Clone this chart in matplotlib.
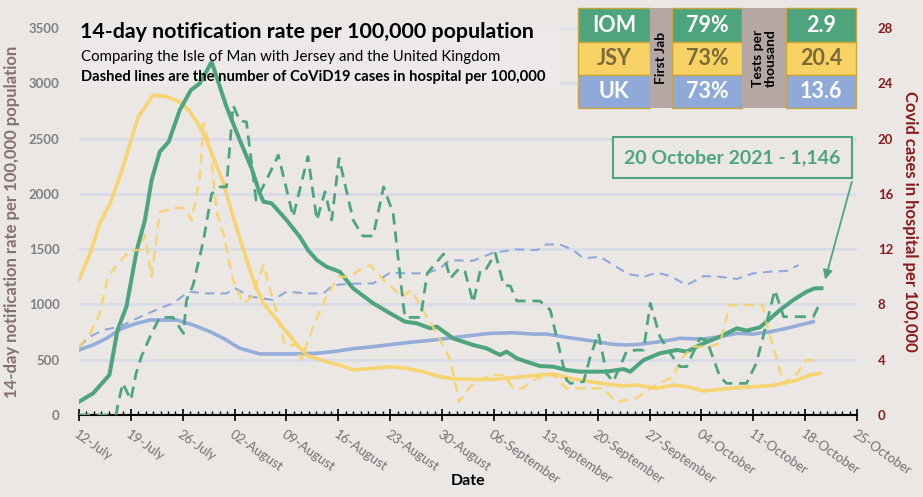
import matplotlib.pyplot as plt
from matplotlib.patches import Rectangle

plt.rcParams["font.family"] = ["Lato", "DejaVu Sans"]

# x positions are days after 12 July 2021
tick_labels = ["12-July", "19-July", "26-July", "02-August", "09-August", "16-August",
               "23-August", "30-August", "06-September", "13-September", "20-September",
               "27-September", "04-October", "11-October", "18-October", "25-October"]

# 14-day notification rate per 100,000 (left axis)
iom_days = [0, 1.9, 4.1, 5.2, 6.4, 7.8, 8.9, 9.8, 10.9, 12.1, 13.6, 15.1, 16.3, 17.9, 19.9,
            21.7, 23.3, 24.4, 24.9, 26, 28, 29.8, 30.9, 32.1, 33.4, 35.2, 37, 39.7, 42, 44,
            45.6, 47.4, 48.3, 50.5, 53.2, 55, 56.8, 57.7, 59.1, 60.4, 62.2, 64, 65.8, 67.6,
            71.2, 73.5, 74.4, 76.2, 78.4, 80.7, 82, 84.3, 86.5, 88.8, 90.1, 91.9, 92.8, 94.6,
            96.4, 98.2, 99.3, 100.2]
iom_rate = [120, 196, 362, 768, 980, 1492, 1763, 2125, 2381, 2471, 2758, 2938, 2999, 3194, 2788,
            2486, 2230, 2004, 1929, 1914, 1763, 1612, 1492, 1401, 1341, 1295, 1145, 1010, 919, 844,
            829, 784, 799, 693, 633, 603, 543, 573, 512, 482, 443, 437, 407, 392,
            392, 415, 392, 497, 558, 588, 573, 648, 708, 784, 763, 793, 844, 949,
            1040, 1115, 1146, 1146]

jsy_days = [0, 1.5, 2.8, 4.2, 5.8, 6.9, 8, 10, 11.8, 13.6, 14.8, 15.9, 17.2, 18.1, 19.5, 20.8,
            22.2, 23.5, 24.9, 26.7, 28.9, 30.7, 33.4, 35.5, 37, 39.7, 42, 44.2, 46.4, 48.7,
            50.5, 53.2, 55.9, 58.6, 62.2, 64, 66.7, 69, 71.2, 73.3, 75.3, 78, 80.2, 82, 84.3,
            86.5, 88.8, 91, 93.3, 95.1, 96.9, 98.7, 100]
jsy_rate = [1221, 1462, 1733, 1914, 2215, 2456, 2697, 2893, 2878, 2833, 2758, 2652, 2486, 2336,
            2095, 1793, 1492, 1221, 1010, 859, 678, 542, 482, 445, 407, 422, 437, 422, 392, 347,
            326, 322, 322, 337, 362, 371, 326, 301, 280, 263, 271, 241, 271, 256, 217,
            232, 247, 256, 265, 286, 316, 362, 377]

uk_days = [0, 1.9, 3.7, 5.8, 7.8, 9.6, 10.9, 13.2, 15.4, 17.7, 19.5, 21.7, 24.4, 28.9, 32.1,
           34.3, 37, 39.7, 44.2, 47.8, 52.3, 55.4, 58.6, 61.3, 63.1, 65.8, 69, 72.1, 73.9,
           75.7, 78.4, 81.1, 84.3, 86.5, 88.8, 91, 93.3, 95.5, 97.3, 99.1]
uk_rate = [588, 633, 693, 784, 829, 859, 859, 859, 814, 753, 693, 603, 552, 552, 558,
           573, 600, 618, 654, 678, 714, 738, 744, 732, 732, 702, 672, 639, 633,
           640, 663, 693, 687, 708, 738, 732, 753, 784, 814, 844]

# cases in hospital per 100,000 (right axis)
iom_hosp_days = [0, 5, 5.2, 5.9, 7.0, 7.7, 8.4, 9.7, 10.9, 12.7, 14.1, 14.5, 15.4, 16.8, 17.9,
                 19, 19.9, 20.8, 21.7, 22.6, 23.9, 25.3, 26.9, 28.9, 30.9, 32.1, 33.2, 34.1,
                 35.1, 37, 38.3, 39.7, 41.1, 42.4, 43.8, 44, 46.1, 47, 49.2, 50.1, 51.3, 52.1,
                 53.2, 54.2, 55, 56.2, 57.3, 58.2, 59.1, 62.2, 63.6, 65.8, 66.3, 68.1, 69,
                 70.1, 71.2, 72.1, 73.9, 75.3, 76.2, 77.1, 78.4, 79.8, 81.1, 82, 83.8, 84.7,
                 86.5, 87.4, 90.1, 91.4, 92.8, 93.9, 95.1, 96.4, 99.1, 100]
iom_hosp = [0, 0, 0.6, 2.3, 1.1, 3.0, 4.2, 5.8, 7.06, 7.06, 5.9, 8.3, 9.4, 12.66, 16.0,
            16.5, 16.5, 22.4, 21.3, 21.2, 15.55, 17.0, 18.8, 14.35, 18.7, 14.1, 16.15, 14.1,
            18.56, 14.1, 12.95, 12.95, 16.5, 14.6, 7.84, 7.06, 7.06, 10.25, 11.65, 9.88, 10.6, 10.37,
            8.12, 10.56, 10.6, 11.7, 9.4, 9.33, 8.25, 8.25, 7.6, 2.53, 2.29, 2.41, 4.22,
            5.9, 3.0, 2.41, 4.6, 4.7, 4.7, 8.08, 5.67, 4.46, 3.5, 3.5, 5.55, 5.42,
            2.77, 2.29, 2.29, 3.74, 6.63, 9.04, 7.11, 7.11, 7.11, 8.08]

jsy_hosp_days = [0, 1.5, 2.8, 3.9, 5.3, 6.9, 8.2, 8.9, 9.8, 10.9, 13.2, 14.3, 15.2, 16.3, 16.8,
                 17.7, 18.6, 19.5, 20.8, 22.2, 23.3, 24.9, 26.2, 27.8, 29.4, 30, 31.6, 33.4,
                 35, 36.6, 37.9, 39.3, 41.1, 43.6, 44.9, 46.1, 48.3, 50.1, 51.3, 52.8, 54.6,
                 55.4, 57.3, 58.6, 59.8, 61.8, 64, 65.8, 69.4, 70.7, 72.5, 75.2, 77.5, 80.2,
                 81.1, 82.9, 85.1, 86.5, 87.8, 91, 92.2, 93.3, 95.1, 96.9, 98.2, 99.3]
jsy_hosp = [4.94, 5.9, 7.35, 10.0, 10.97, 11.93, 11.93, 13.0, 10.0, 14.7, 15.0, 14.95, 14.1, 17.24,
            21.1, 19.4, 14.6, 13.1, 9.76, 8.08, 8.56, 10.85, 8.32, 5.06, 5.06, 3.98, 6.39, 8.56,
            10.0, 10.0, 10.5, 10.85, 9.76, 8.56, 9.04, 7.84, 5.9, 3.98, 0.96, 2.05, 2.65,
            2.89, 2.89, 1.93, 1.93, 2.65, 2.89, 1.93, 1.93, 1.93, 0.96, 1.21, 2.05, 2.77,
            3.98, 4.94, 4.94, 5.18, 7.96, 7.96, 7.96, 5.67, 2.29, 3.0, 3.98, 3.98]

uk_hosp_days = [0, 1.5, 3.3, 5.5, 7.8, 10.9, 12.7, 14.8, 17.2, 19.9, 21.1, 23.1, 26.2, 28, 30.7,
                33, 34.3, 37, 39.7, 42, 44.2, 46.9, 48.7, 50, 53.2, 55.9, 59.1, 61.8, 63.1,
                64.9, 66.7, 68.1, 70.3, 72.5, 74.1, 76.2, 78, 79.8, 82, 84.3, 86.5, 88.8, 91,
                93.3, 95.5, 97.1]
uk_hosp = [4.94, 5.67, 6.15, 6.39, 6.99, 7.72, 8.08, 8.92, 8.8, 8.8, 9.16, 8.56, 8.32, 8.92, 8.8,
           8.8, 9.4, 9.5, 9.52, 10.3, 10.25, 10.25, 10.6, 11.2, 11.16, 11.74, 11.98, 11.93, 12.34,
           12.34, 11.93, 11.33, 11.45, 10.73, 10.2, 10.0, 10.3, 10.05, 9.4, 10.05, 10.0, 9.84, 10.25,
           10.37, 10.42, 10.85]

places = ["IOM", "JSY", "UK"]
first_jab = ["79%", "73%", "73%"]
tests_per_thousand = ["2.9", "20.4", "13.6"]

GREEN = "#4ea57d"
YELLOW = "#f8d264"
BLUE = "#8faad9"
BG = "#ebe7e5"
DARKRED = "#8b1a1a"
GREY = "#7f7f7f"

fig = plt.figure(figsize=(9.23, 4.97), dpi=100, facecolor=BG)
ax = fig.add_axes([0.0856, 0.165, 0.8429, 0.7787])
ax.set_facecolor(BG)
ax2 = ax.twinx()

# light panel behind the titles, covering the gridlines
ax.add_patch(Rectangle((70 / 923, 1 - 86 / 497), 490 / 923, 70 / 497, transform=fig.transFigure,
                       facecolor="#ece9e8", edgecolor="none", zorder=1))

ax.plot(uk_days, uk_rate, color=BLUE, lw=2.6, alpha=0.95, zorder=3)
ax.plot(jsy_days, jsy_rate, color=YELLOW, lw=2.6, alpha=0.9, zorder=3)
ax.plot(iom_days, iom_rate, color=GREEN, lw=2.9, zorder=4)

ax2.plot(uk_hosp_days, uk_hosp, color=BLUE, lw=1.5, dashes=(4.5, 3))
ax2.plot(jsy_hosp_days, jsy_hosp, color=YELLOW, lw=1.8, alpha=0.85, dashes=(4, 2.5))
ax2.plot(iom_hosp_days, iom_hosp, color=GREEN, lw=2.0, dashes=(4, 2.5))

ax.set_xlim(0, 105)
ax.set_ylim(0, 3500)
ax2.set_ylim(0, 28)
ax.set_yticks(range(0, 3501, 500))
ax2.set_yticks(range(0, 29, 4))
ax.grid(axis="y", color="#d8dbe8", lw=2)
ax.set_axisbelow(True)

ax.set_xticks(range(0, 106, 7))
ax.set_xticks(range(0, 106), minor=True)
ax.set_xticklabels(tick_labels, rotation=-35, ha="left", va="top", rotation_mode="anchor",
                   color="#777272", fontsize=9.5)
ax.tick_params(axis="x", which="major", direction="inout", length=9, width=1.2, pad=5)
ax.tick_params(axis="x", which="minor", direction="in", length=3, width=1)
ax.tick_params(axis="y", length=0, labelsize=9.5, labelcolor=GREY, pad=14)
ax2.tick_params(axis="y", length=0, labelsize=9.5, labelcolor=DARKRED, pad=15)
for lab in ax.get_yticklabels():
    lab.set_fontweight("bold")
for lab in ax2.get_yticklabels():
    lab.set_fontweight("bold")

for a in (ax, ax2):
    for side in ("left", "right", "top"):
        a.spines[side].set_visible(False)
ax2.spines["bottom"].set_visible(False)
ax.spines["bottom"].set_linewidth(1.5)

fig.text(468 / 923, 1 - 481 / 497, "Date", fontsize=11.5, fontweight="bold",
         ha="center", va="center")
ax.set_ylabel("14-day notification rate per 100,000 population", fontsize=12,
              fontweight="bold", color="#857070", labelpad=6)
ax2.set_ylabel("Covid cases in hospital per 100,000", fontsize=12, fontweight="bold",
               color=DARKRED, rotation=270, labelpad=18)

# title block
fig.text(80 / 923, 0.935, "14-day notification rate per 100,000 population", fontsize=15.4,
         fontweight="bold", va="center")
fig.text(81 / 923, 0.885, "Comparing the Isle of Man with Jersey and the United Kingdom",
         fontsize=10.8, va="center")
fig.text(81 / 923, 0.846, "Dashed lines are the number of CoViD19 cases in hospital per 100,000",
         fontsize=10.6, fontweight="bold", va="center")

# table, in pixel coords of the figure
W, H = 923, 497
row_cols = [GREEN, YELLOW, BLUE]
text_cols = ["white", "#7a6a3a", "white"]
rows_y = [8, 42, 75, 108]
col_x = [(578, 650), (672, 742), (786, 856)]
for i in range(3):
    y0, y1 = rows_y[i], rows_y[i + 1]
    for j, vals in enumerate([places, first_jab, tests_per_thousand]):
        x0, x1 = col_x[j]
        fig.patches.append(Rectangle((x0 / W, 1 - y1 / H), (x1 - x0) / W, (y1 - y0) / H,
                                     transform=fig.transFigure, facecolor=row_cols[i],
                                     edgecolor="#c9a43a", lw=1, zorder=5))
        fig.text((x0 + x1) / 2 / W, 1 - (y0 + y1) / 2 / H, vals[i], ha="center", va="center",
                 fontsize=15.5, fontweight="bold", color=text_cols[i], zorder=6)
for (x0, x1), label in [((650, 672), "First Jab"), ((742, 786), "Tests per\nthousand")]:
    fig.patches.append(Rectangle((x0 / W, 1 - 108 / H), (x1 - x0) / W, 100 / H,
                                 transform=fig.transFigure, facecolor="#b5a7a4",
                                 edgecolor="none", zorder=5))
    fig.text((x0 + x1) / 2 / W, 1 - 58 / H, label, rotation=90, ha="center", va="center",
             fontsize=10, fontweight="bold", ma="center", linespacing=1.1, zorder=6)

# callout for the latest IOM value
ax.text(88.2, 2330, "20 October 2021 - 1,146", ha="center", va="center", fontsize=14,
        fontweight="bold", color=GREEN, zorder=6,
        bbox=dict(boxstyle="square,pad=0.6", facecolor=BG, edgecolor=GREEN, lw=1.5))
ax.annotate("", xy=(100.6, 1200), xytext=(104.4, 2134),
            arrowprops=dict(arrowstyle="-|>", color=GREEN, lw=1.3, mutation_scale=14))

fig.savefig("out.png", dpi=100, facecolor=BG)
